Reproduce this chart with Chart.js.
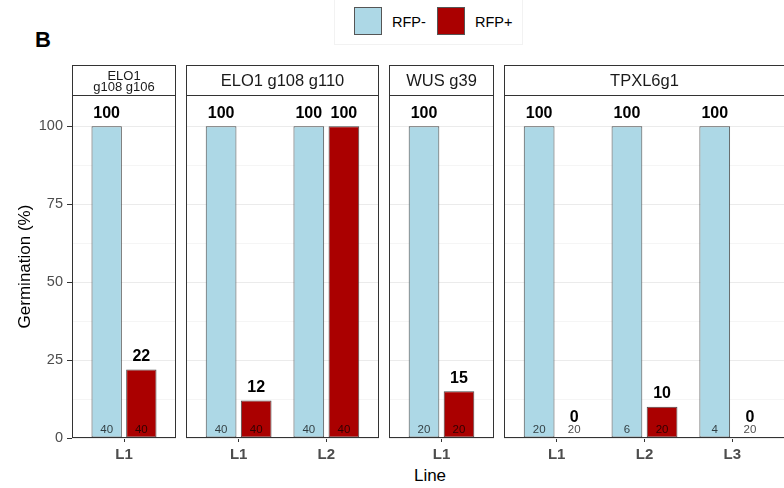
<!DOCTYPE html>
<html>
<head>
<meta charset="utf-8">
<script src="https://cdn.jsdelivr.net/npm/chart.js@4.4.0/dist/chart.umd.min.js"></script>
<style>
  body { margin: 0; width: 784px; height: 488px; overflow: hidden; background: #fff; position: relative;
         font-family: "Liberation Sans", Arial, sans-serif; }
  .pane { position: absolute; top: 60px; }
  #tag { position: absolute; left: 35px; top: 27px; font-weight: bold; font-size: 22px; color: #000; }
  #legend { position: absolute; left: 334px; top: -1px; width: 187px; height: 44px; border: 1px solid #f2f2f2; }
  .key { position: absolute; top: 7px; width: 28px; height: 28px; border: 1px solid #555; box-sizing: border-box; }
  .lab { position: absolute; top: 14px; font-size: 14.5px; color: #000; }
  #xtitle { position: absolute; left: 400px; width: 60px; text-align: center; top: 466px; font-size: 17px; color: #000; }
</style>
</head>
<body>
<div id="tag">B</div>
<div id="legend">
  <div class="key" style="left:19px;background:#ADD8E6"></div><div class="lab" style="left:57px">RFP-</div>
  <div class="key" style="left:102px;background:#AA0000"></div><div class="lab" style="left:140px">RFP+</div>
</div>
<div id="xtitle">Line</div>

<script>
// datos
const facetNames = [['ELO1', 'g108 g106'], ['ELO1 g108 g110'], ['WUS g39'], ['TPXL6g1']];
const facetLines = [['L1'], ['L1', 'L2'], ['L1'], ['L1', 'L2', 'L3']];
const rfpMinus = [[100], [100, 100], [100], [100, 100, 100]];
const rfpPlus = [[22], [12, 100], [15], [0, 10, 0]];
const nMinus = [[40], [40, 40], [20], [20, 6, 4]];
const nPlus = [[40], [40, 40], [20], [20, 20, 20]];
const yTicks = [0, 25, 50, 75, 100];

const FONT = '"Liberation Sans", Arial, sans-serif';
const panelLeft = [72, 186, 389, 504];
const panelWidth = [104, 193, 105, 281];

function makePanel(i) {
  const first = i === 0;
  const n = facetLines[i].length;
  const pad = 2;
  const canvasLeft = first ? 0 : panelLeft[i] - pad;
  const canvasW = (first ? panelLeft[i] : pad) + panelWidth[i] + pad;

  const div = document.createElement('div');
  div.className = 'pane';
  div.style.left = canvasLeft + 'px';
  const canvas = document.createElement('canvas');
  canvas.width = canvasW;
  canvas.height = 428;
  canvas.style.width = canvasW + 'px';
  canvas.style.height = '428px';
  div.appendChild(canvas);
  document.body.appendChild(div);

  // tira del facet, borde del panel y etiquetas
  const facetPlugin = {
    id: 'facet' + i,
    afterDatasetsDraw(chart) {
      const ctx = chart.ctx;
      const a = chart.chartArea;
      const l = Math.round(a.left) + 0.5, r = Math.round(a.right) - 0.5;
      const t = Math.round(a.top) + 0.5, b = Math.round(a.bottom) - 0.5;
      ctx.save();

      // etiquetas de valor y de n
      chart.data.datasets.forEach((ds, di) => {
        const meta = chart.getDatasetMeta(di);
        const counts = di === 0 ? nMinus[i] : nPlus[i];
        meta.data.forEach((bar, k) => {
          const v = ds.data[k];
          ctx.textAlign = 'center';
          ctx.textBaseline = 'middle';
          ctx.fillStyle = '#000';
          ctx.font = 'bold 16px ' + FONT;
          ctx.fillText(String(v), bar.x, v === 0 ? a.bottom - 20 : bar.y - 13);
          ctx.font = '11.5px ' + FONT;
          ctx.fillStyle = 'rgba(0,0,0,0.72)';
          ctx.fillText(String(counts[k]), bar.x, a.bottom - 8);
        });
      });

      ctx.strokeStyle = '#333';
      ctx.lineWidth = 1;
      ctx.strokeRect(l, t, r - l, b - t);

      // tira
      ctx.fillStyle = '#fff';
      ctx.fillRect(l, t - 30, r - l, 30);
      ctx.strokeRect(l, t - 30, r - l, 30);
      ctx.fillStyle = '#1a1a1a';
      ctx.textAlign = 'center';
      ctx.textBaseline = 'middle';
      const name = facetNames[i];
      const cx = (a.left + a.right) / 2;
      if (name.length === 1) {
        ctx.font = '16.5px ' + FONT;
        ctx.fillText(name[0], cx, t - 14.5);
      } else {
        ctx.font = '13px ' + FONT;
        ctx.fillText(name[0], cx, t - 19);
        ctx.fillText(name[1], cx, t - 8);
      }
      ctx.restore();
    }
  };

  new Chart(canvas, {
    type: 'bar',
    data: {
      labels: facetLines[i],
      datasets: [
        { label: 'RFP-', data: rfpMinus[i], backgroundColor: '#ADD8E6' },
        { label: 'RFP+', data: rfpPlus[i], backgroundColor: '#AA0000' }
      ]
    },
    options: {
      responsive: false,
      animation: false,
      devicePixelRatio: 1,
      layout: { padding: { top: 35, left: first ? 0 : pad, right: pad, bottom: 0 } },
      datasets: {
        bar: {
          borderColor: '#4a4a4a',
          borderWidth: 1,
          borderSkipped: false,
          categoryPercentage: n === 1 ? 0.8 / 1.2 : 0.8,
          barPercentage: 0.875
        }
      },
      plugins: { legend: { display: false }, tooltip: { enabled: false } },
      scales: {
        x: {
          offset: true,
          afterBuildTicks: s => { s._startValue = s.min - 0.6; s._valueRange = s.max - s.min + 1.2; },
          afterFit: s => { s.height = 50; },
          grid: { offset: false, drawOnChartArea: false, tickLength: 4, tickColor: '#333' },
          border: { display: false },
          ticks: { color: '#4d4d4d', padding: 4, font: { family: FONT, size: 15, weight: 'bold' } }
        },
        y: {
          min: 0,
          max: 110,
          afterFit: s => { s.width = first ? 72 : 0; },
          border: { display: false },
          grid: {
            color: c => yTicks.includes(c.tick.value) ? '#ebebeb' : '#f5f5f5',
            lineWidth: 1,
            drawTicks: first,
            tickLength: 5,
            tickColor: c => yTicks.includes(c.tick.value) ? '#333' : 'rgba(0,0,0,0)'
          },
          ticks: {
            display: first,
            stepSize: 12.5,
            includeBounds: false,
            autoSkip: false,
            padding: 4,
            color: '#4d4d4d',
            font: { family: FONT, size: 14.5 },
            callback: v => yTicks.includes(v) ? v : ''
          },
          title: {
            display: first,
            text: 'Germination (%)',
            color: '#000',
            padding: { top: 15, bottom: 0 },
            font: { family: FONT, size: 17 }
          }
        }
      }
    },
    plugins: [facetPlugin]
  });
}

facetNames.forEach((f, i) => makePanel(i));
</script>
</body>
</html>
